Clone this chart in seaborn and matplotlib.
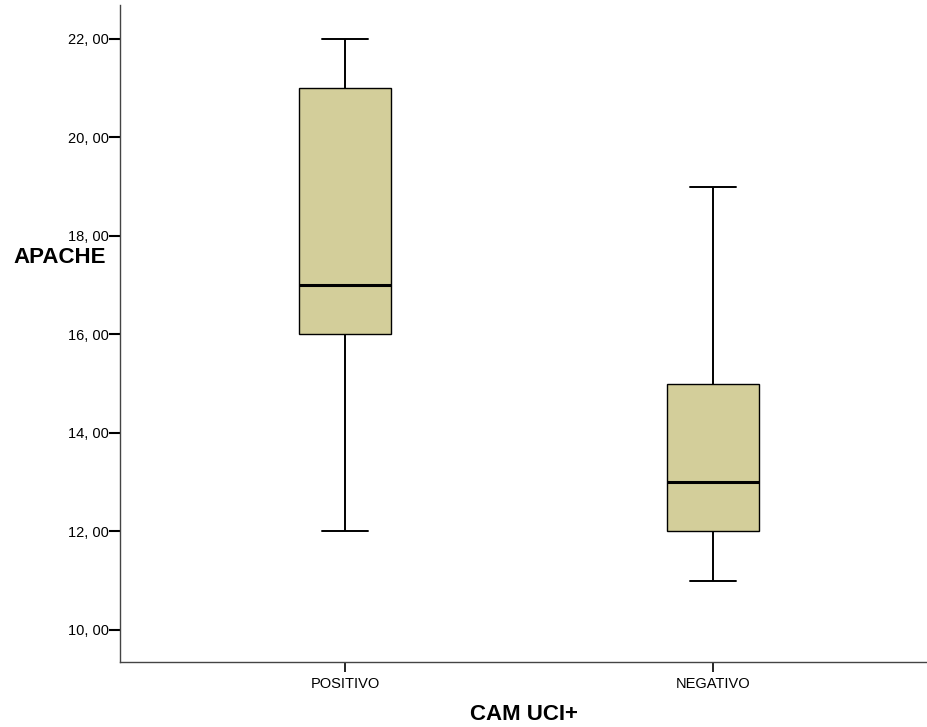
import matplotlib
matplotlib.use("Agg")
import matplotlib.pyplot as plt
import seaborn as sns
import pandas as pd
from matplotlib.ticker import FuncFormatter

categories = ["POSITIVO", "NEGATIVO"]
positivo_values = [12, 16, 17, 21, 22]
negativo_values = [11, 12, 13, 15, 19]
y_ticks = [10, 12, 14, 16, 18, 20, 22]

df = pd.DataFrame({
    "group": ["POSITIVO"] * len(positivo_values) + ["NEGATIVO"] * len(negativo_values),
    "APACHE": positivo_values + negativo_values,
})

sns.set_style("white")
plt.rcParams["font.family"] = ["Liberation Sans", "DejaVu Sans"]
plt.rcParams["text.color"] = "black"
plt.rcParams["axes.labelcolor"] = "black"
plt.rcParams["xtick.color"] = "black"
plt.rcParams["ytick.color"] = "black"

fig = plt.figure(figsize=(9.27, 7.27), dpi=100)
ax = fig.add_axes([120/927, 1-662/727, 1-120/927, (662-5)/727])

sns.boxplot(data=df, x="group", y="APACHE", order=categories, ax=ax,
            color="#D3CE9A", width=0.25, linecolor="black", linewidth=1.0,
            saturation=1, showfliers=False,
            medianprops=dict(linewidth=2.2, color="black"),
            whiskerprops=dict(linewidth=1.4),
            capprops=dict(linewidth=1.4))

ax.set_xlim(-0.611, 1.58)
ax.set_ylim(9.35, 22.69)
ax.set_yticks(y_ticks)
ax.yaxis.set_major_formatter(FuncFormatter(lambda v, p: f"{int(v)}, 00"))

for s in ["top", "right"]:
    ax.spines[s].set_visible(False)
for s in ["left", "bottom"]:
    ax.spines[s].set_color("#444444")
    ax.spines[s].set_linewidth(1.0)

ax.tick_params(axis="y", direction="out", length=8, width=1.5, color="black",
               labelsize=10.5, pad=0, left=True, labelcolor="black")
ax.tick_params(axis="x", direction="out", length=7, width=1.2, color="black",
               labelsize=10.5, pad=4, bottom=True, labelcolor="black")

ax.set_xlabel("CAM UCI+", fontsize=16, fontweight="bold", labelpad=9, color="black")
ax.set_ylabel("APACHE", fontsize=16, fontweight="bold", rotation=0,
              ha="right", va="center", color="black")
ax.yaxis.set_label_coords(-0.018, 0.615)

fig.savefig("out.png", dpi=100)
